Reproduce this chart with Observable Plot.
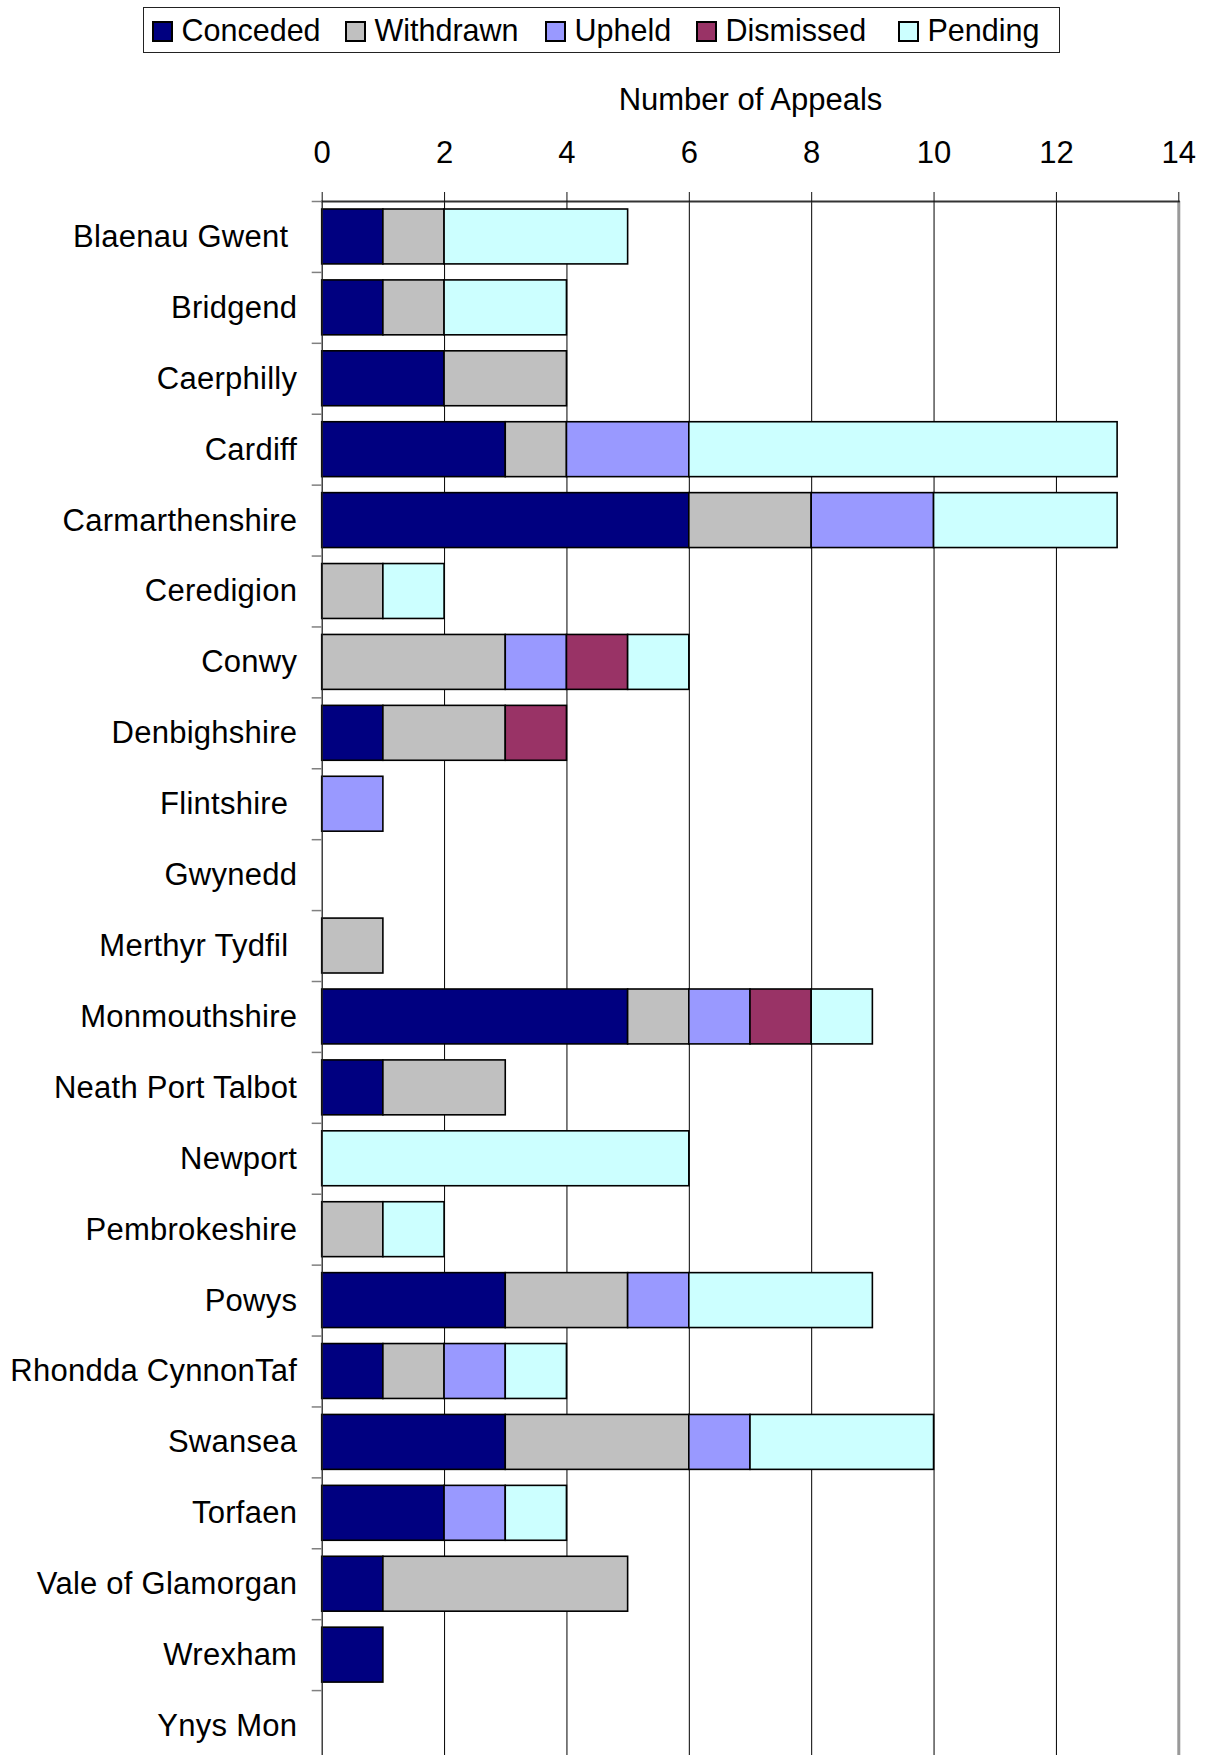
<!DOCTYPE html>
<html>
<head>
<meta charset="utf-8">
<script src="https://cdn.jsdelivr.net/npm/d3@7"></script>
<script src="https://cdn.jsdelivr.net/npm/@observablehq/plot@0.6"></script>
<style>
  html, body { margin: 0; padding: 0; background: #fff; overflow: hidden; }
  body { width: 1208px; font-family: "Liberation Sans", Arial, sans-serif; }
  #legend { position: relative; height: 60px; width: 1208px; }
  #legend .box { position: absolute; left: 143px; top: 7px; width: 915px; height: 44px; border: 1.5px solid #222; }
  #legend .sw { position: absolute; top: 21px; width: 17px; height: 17px; border: 2px solid #000; }
  #legend .lb { position: absolute; top: 14.6px; font-size: 30.5px; line-height: 30px; white-space: pre; color: #000; }
  #chart { height: 1695px; overflow: visible; }
  #chart svg { display: block; max-width: none !important; }
  svg text { white-space: pre; }
  g[aria-label="y-axis tick label"] { letter-spacing: 0.25px; }
</style>
</head>
<body>
<div id="legend"><div class="box"></div></div>
<div id="chart"></div>
<script>
const names = ["Blaenau Gwent ", "Bridgend", "Caerphilly", "Cardiff", "Carmarthenshire", "Ceredigion", "Conwy", "Denbighshire", "Flintshire ", "Gwynedd", "Merthyr Tydfil ", "Monmouthshire", "Neath Port Talbot", "Newport", "Pembrokeshire", "Powys", "Rhondda CynnonTaf", "Swansea", "Torfaen", "Vale of Glamorgan", "Wrexham", "Ynys Mon"];
const statuses = ["Conceded", "Withdrawn", "Upheld", "Dismissed", "Pending"];
const colors = ["#000080", "#C0C0C0", "#9999FF", "#993366", "#CCFFFF"];
const conceded  = [1,1,2,3,6,0,0,1,0,0,0,5,1,0,0,3,1,3,2,1,1,0];
const withdrawn = [1,1,2,1,2,1,3,2,0,0,1,1,2,0,1,2,1,3,0,4,0,0];
const upheld    = [0,0,0,2,2,0,1,0,1,0,0,1,0,0,0,1,1,1,1,0,0,0];
const dismissed = [0,0,0,0,0,0,1,1,0,0,0,1,0,0,0,0,0,0,0,0,0,0];
const pending   = [3,2,0,7,3,1,1,0,0,0,0,1,0,6,1,3,1,3,1,0,0,0];
const xTicks = [0, 2, 4, 6, 8, 10, 12, 14];
const xTitle = "Number of Appeals";

const series = [conceded, withdrawn, upheld, dismissed, pending];
const rows = [];
names.forEach((name, i) => {
  statuses.forEach((status, j) => {
    rows.push({name, status, value: series[j][i]});
  });
});

// legend
const legendLeft = [152, 345, 545, 696, 898];
const legend = document.getElementById("legend");
statuses.forEach((s, j) => {
  const sw = document.createElement("div");
  sw.className = "sw";
  sw.style.left = legendLeft[j] + "px";
  sw.style.background = colors[j];
  legend.appendChild(sw);
  const lb = document.createElement("div");
  lb.className = "lb";
  lb.style.left = (legendLeft[j] + 29.5) + "px";
  lb.textContent = s;
  legend.appendChild(lb);
});

const H = 1695, mTop = 141, mLeft = 321.7, mRight = 29.7;
const yEnd = 1701;
const bw = (yEnd - mTop) / names.length;
const fs = 31;

const plot = Plot.plot({
  width: 1208,
  height: H,
  marginTop: mTop,
  marginLeft: mLeft,
  marginRight: mRight,
  marginBottom: 0,
  style: {fontFamily: "'Liberation Sans', Arial, sans-serif", fontSize: fs + "px", color: "#000", background: "#fff", overflow: "visible"},
  x: {domain: [xTicks[0], xTicks[xTicks.length - 1]]},
  y: {domain: names, range: [mTop, yEnd], padding: 0, round: false},
  color: {domain: statuses, range: colors},
  marks: [
    Plot.ruleX(xTicks.slice(1, -1), {stroke: "#000", strokeWidth: 1}),
    Plot.ruleX(xTicks.slice(-1), {stroke: "#999", strokeWidth: 3}),
    Plot.barX(rows.filter(d => d.value > 0), {x: "value", y: "name", fill: "status", order: statuses, stroke: "#000", strokeWidth: 1.6, insetTop: 8, insetBottom: 8}),
    Plot.ruleX(xTicks.slice(0, 1), {stroke: "#222", strokeWidth: 1.3}),
    Plot.frame({anchor: "top", stroke: "#333", strokeWidth: 2}),
    Plot.axisX({anchor: "top", ticks: xTicks, tickSize: 10, tickPadding: 29, label: null, fontSize: fs, stroke: "#111"}),
    Plot.axisY({tickSize: 10, dy: -bw / 2, tickFormat: () => "", label: null, stroke: "#808080", strokeWidth: 1.5}),
    Plot.axisY({tickSize: 0, tickPadding: 25, label: null, fontSize: fs}),
    Plot.text([xTitle], {text: d => d, frameAnchor: "top", lineAnchor: "bottom", dy: -92, fontSize: fs})
  ]
});
document.getElementById("chart").appendChild(plot);
</script>
</body>
</html>
